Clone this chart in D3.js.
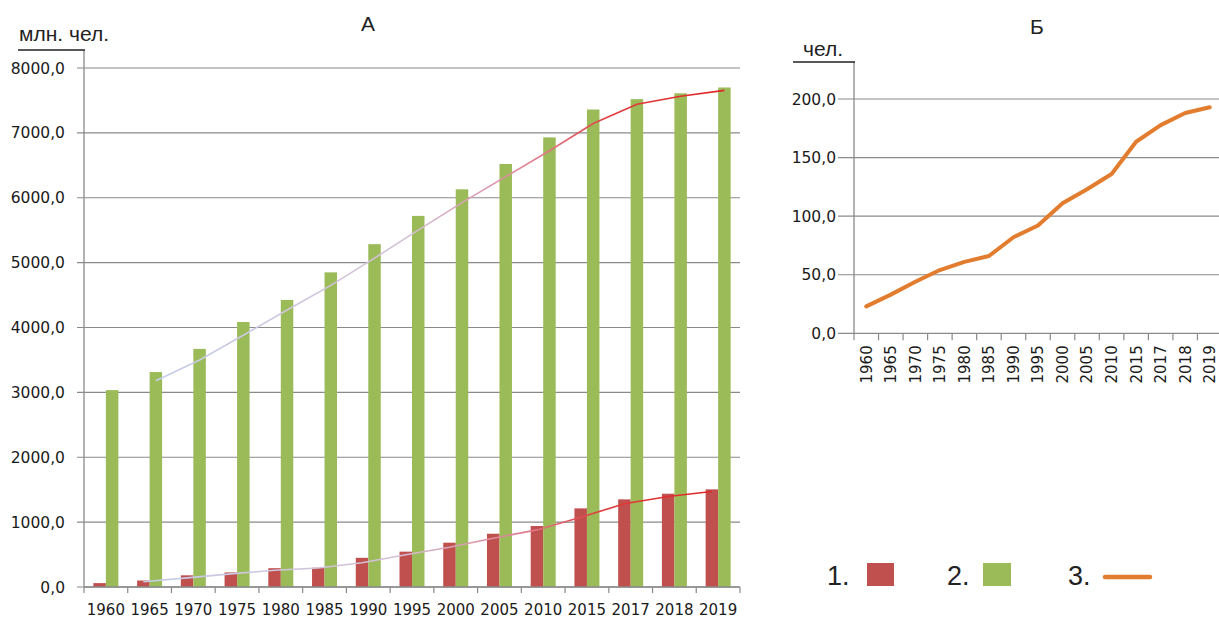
<!DOCTYPE html>
<html>
<head>
<meta charset="utf-8">
<script src="https://cdn.jsdelivr.net/npm/d3@7"></script>
<style>
  html, body { margin: 0; padding: 0; background: #fff; }
  svg { display: block; }
</style>
</head>
<body>
<svg id="chart" width="1219" height="621"></svg>
<script>
// ---------- data ----------
const years = ["1960","1965","1970","1975","1980","1985","1990","1995","2000","2005","2010","2015","2017","2018","2019"];
// series 1 (red bars), млн. чел.
const series1 = [60,100,180,225,290,297,450,545,683,821,940,1212,1351,1438,1505];
// series 2 (green bars), млн. чел.
const series2 = [3035,3313,3670,4085,4425,4850,5285,5720,6130,6520,6930,7360,7520,7610,7700];
// trend lines (start at 1965)
const trendYears = ["1965","1970","1975","1980","1985","1990","1995","2000","2005","2010","2015","2017","2018","2019"];
const trend1 = [80,140,203,258,294,374,498,614,752,880,1076,1282,1395,1471];
const trend2 = [3180,3500,3880,4270,4650,5070,5500,5925,6325,6725,7145,7440,7565,7655];
// series 3 (chart Б), чел.
const series3 = [23,33,44,54,61,66,82,92,111,123,136,163.5,177.7,188,193];
// tick values
const yTicksA = [0,1000,2000,3000,4000,5000,6000,7000,8000];
const yTicksB = [0,50,100,150,200];
const legendLabels = ["1.","2.","3."];

// ---------- styles ----------
const RED = "#c0504d", GREEN = "#9bbb59", ORANGE = "#e27d2f";
const GRID = "#8a8a8a";
const TICKFONT = "'DejaVu Sans', Verdana, sans-serif";
const TEXTFONT = "'Liberation Sans', Arial, sans-serif";
const fmt = v => d3.format(".1f")(v).replace(".", ",");

const svg = d3.select("#chart");
const defs = svg.append("defs");
const grad = defs.append("linearGradient").attr("id","trendGrad")
  .attr("x1","0").attr("x2","1").attr("y1","0").attr("y2","0");
[[0,"#c6cde8"],[0.45,"#d4bfd6"],[0.68,"#e07a8a"],[0.8,"#e03c3c"],[1,"#e02626"]]
  .forEach(([o,c]) => grad.append("stop").attr("offset",o).attr("stop-color",c));

// ================= Chart А =================
const A = { left: 84, right: 740, top: 68, bottom: 587, axisTop: 50 };
const xA = d3.scaleBand().domain(years).range([A.left, A.right]);
const subA = d3.scaleBand().domain(["s1","s2"]).range([0, xA.bandwidth()]).paddingOuter(0.75);
const yA = d3.scaleLinear().domain([0, 8000]).range([A.bottom, A.top]);

const gA = svg.append("g");
gA.selectAll("line.grid").data(yTicksA).join("line")
  .attr("x1", A.left - 7).attr("x2", A.right)
  .attr("y1", d => yA(d)).attr("y2", d => yA(d))
  .attr("stroke", GRID).attr("stroke-width", 1.2);
gA.selectAll("text.yl").data(yTicksA).join("text")
  .attr("x", A.left - 19).attr("y", d => yA(d)).attr("dy", "0.36em")
  .attr("text-anchor", "end").attr("font-family", TICKFONT).attr("font-size", 15.5)
  .attr("fill", "#1a1a1a").text(fmt);
const groups = gA.selectAll("g.grp").data(years).join("g")
  .attr("transform", d => `translate(${xA(d)},0)`);
groups.append("rect")
  .attr("x", subA("s1")).attr("width", subA.bandwidth())
  .attr("y", (d,i) => yA(series1[i])).attr("height", (d,i) => yA(0) - yA(series1[i]))
  .attr("fill", RED);
groups.append("rect")
  .attr("x", subA("s2")).attr("width", subA.bandwidth())
  .attr("y", (d,i) => yA(series2[i])).attr("height", (d,i) => yA(0) - yA(series2[i]))
  .attr("fill", GREEN);
gA.append("line").attr("x1", A.left).attr("x2", A.left).attr("y1", A.axisTop).attr("y2", A.bottom)
  .attr("stroke", GRID).attr("stroke-width", 1.3);
gA.append("line").attr("x1", A.left).attr("x2", A.right).attr("y1", A.bottom).attr("y2", A.bottom)
  .attr("stroke", GRID).attr("stroke-width", 1.3);
const boundsA = years.map(d => xA(d)).concat([A.right]);
gA.selectAll("line.xt").data(boundsA).join("line")
  .attr("x1", d => d).attr("x2", d => d).attr("y1", A.bottom).attr("y2", A.bottom + 6)
  .attr("stroke", GRID).attr("stroke-width", 1.2);
gA.selectAll("text.xl").data(years).join("text")
  .attr("x", d => xA(d) + xA.bandwidth()/2).attr("y", 615)
  .attr("text-anchor", "middle").attr("font-family", TICKFONT).attr("font-size", 15)
  .attr("fill", "#1a1a1a").text(d => d);
const lineA1 = d3.line().x(d => xA(d.y) + subA("s1") + subA.bandwidth()/2).y(d => yA(d.v));
const lineA2 = d3.line().x(d => xA(d.y) + subA("s2") + subA.bandwidth()/2).y(d => yA(d.v));
gA.append("path").datum(trendYears.map((y,i) => ({y, v: trend2[i]})))
  .attr("d", lineA2).attr("fill","none").attr("stroke","url(#trendGrad)").attr("stroke-width",1.6);
gA.append("path").datum(trendYears.map((y,i) => ({y, v: trend1[i]})))
  .attr("d", lineA1).attr("fill","none").attr("stroke","url(#trendGrad)").attr("stroke-width",1.6);
gA.append("line").attr("x1", 18).attr("x2", A.left + 1).attr("y1", A.axisTop).attr("y2", A.axisTop)
  .attr("stroke", "#222").attr("stroke-width", 1.6);
gA.append("text").attr("x", 19).attr("y", 41).attr("font-family", TEXTFONT).attr("font-size", 21)
  .attr("fill", "#222").text("млн. чел.");
gA.append("text").attr("x", 368).attr("y", 31).attr("text-anchor","middle")
  .attr("font-family", TEXTFONT).attr("font-size", 21).attr("fill", "#222").text("А");

// ================= Chart Б =================
const B = { left: 854, right: 1222, top: 99, bottom: 333.3, axisTop: 62 };
const xB = d3.scaleBand().domain(years).range([B.left, B.right]);
const yB = d3.scaleLinear().domain([0, 200]).range([B.bottom, B.top]);
const gB = svg.append("g");
gB.selectAll("line.grid").data(yTicksB).join("line")
  .attr("x1", B.left - 16).attr("x2", B.right)
  .attr("y1", d => yB(d)).attr("y2", d => yB(d))
  .attr("stroke", GRID).attr("stroke-width", 1.2);
gB.selectAll("text.yl").data(yTicksB).join("text")
  .attr("x", B.left - 18).attr("y", d => yB(d)).attr("dy", "0.36em")
  .attr("text-anchor", "end").attr("font-family", TICKFONT).attr("font-size", 15.5)
  .attr("fill", "#1a1a1a").text(fmt);
gB.append("line").attr("x1", B.left).attr("x2", B.left).attr("y1", B.axisTop).attr("y2", B.bottom)
  .attr("stroke", GRID).attr("stroke-width", 1.3);
const boundsB = years.map(d => xB(d)).concat([B.right]);
gB.selectAll("line.xt").data(boundsB).join("line")
  .attr("x1", d => d).attr("x2", d => d).attr("y1", B.bottom).attr("y2", B.bottom + 7)
  .attr("stroke", GRID).attr("stroke-width", 1.2);
gB.selectAll("text.xl").data(years).join("text")
  .attr("transform", d => `translate(${xB(d) + xB.bandwidth()/2},${B.bottom + 12}) rotate(-90)`)
  .attr("text-anchor", "end").attr("dy", "0.36em")
  .attr("font-family", TICKFONT).attr("font-size", 15).attr("fill", "#1a1a1a").text(d => d);
const lineB = d3.line().x(d => xB(d.y) + xB.bandwidth()/2).y(d => yB(d.v));
gB.append("path").datum(years.map((y,i) => ({y, v: series3[i]})))
  .attr("d", lineB).attr("fill","none").attr("stroke", ORANGE).attr("stroke-width", 4)
  .attr("stroke-linejoin","round").attr("stroke-linecap","round");
gB.append("line").attr("x1", 793).attr("x2", B.left + 1).attr("y1", B.axisTop).attr("y2", B.axisTop)
  .attr("stroke", "#222").attr("stroke-width", 1.6);
gB.append("text").attr("x", 803).attr("y", 56).attr("font-family", TEXTFONT).attr("font-size", 21)
  .attr("fill", "#222").text("чел.");
gB.append("text").attr("x", 1037).attr("y", 34).attr("text-anchor","middle")
  .attr("font-family", TEXTFONT).attr("font-size", 21).attr("fill", "#222").text("Б");

// ================= Legend =================
const legX = [827, 947, 1068];
const gL = svg.append("g");
gL.selectAll("text").data(legendLabels).join("text")
  .attr("x", (d,i) => legX[i]).attr("y", 585)
  .attr("font-family", TEXTFONT).attr("font-size", 27).attr("fill", "#222").text(d => d);
gL.append("rect").attr("x", 867).attr("y", 563).attr("width", 27).attr("height", 23).attr("fill", RED);
gL.append("rect").attr("x", 983).attr("y", 563).attr("width", 28).attr("height", 23).attr("fill", GREEN);
gL.append("line").attr("x1", 1105).attr("x2", 1150).attr("y1", 577).attr("y2", 577)
  .attr("stroke", ORANGE).attr("stroke-width", 4.5).attr("stroke-linecap","round");
</script>
</body>
</html>
